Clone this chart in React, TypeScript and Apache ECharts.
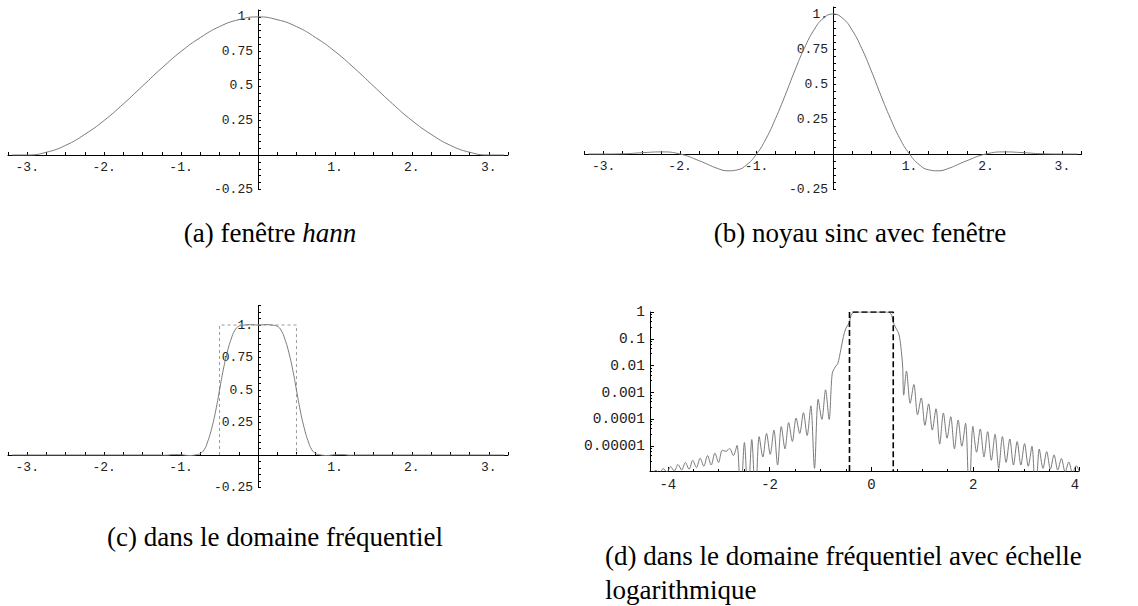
import React, { useEffect, useRef } from 'react';
import * as echarts from 'echarts';

// ---------- data ----------
// (a) hann window
const HANN_X = [-3.2, -3, -2.75, -2.5, -2.25, -2, -1.75, -1.5, -1.25, -1, -0.75, -0.5, -0.25, 0, 0.25, 0.5, 0.75, 1, 1.25, 1.5, 1.75, 2, 2.25, 2.5, 2.75, 3, 3.2];
const HANN_Y = [0, 0, 0.02, 0.07, 0.15, 0.25, 0.37, 0.5, 0.63, 0.75, 0.85, 0.93, 0.98, 1, 0.98, 0.93, 0.85, 0.75, 0.63, 0.5, 0.37, 0.25, 0.15, 0.07, 0.02, 0, 0];

// (b) windowed sinc kernel
const SINC_X = [-3.2, -3, -2.75, -2.5, -2.25, -2, -1.75, -1.5, -1.375, -1.25, -1.125, -1, -0.875, -0.75, -0.625, -0.5, -0.375, -0.25, -0.125, 0, 0.125, 0.25, 0.375, 0.5, 0.625, 0.75, 0.875, 1, 1.125, 1.25, 1.375, 1.5, 1.75, 2, 2.25, 2.5, 2.75, 3, 3.2];
const SINC_Y = [0, 0, 0.0015, 0.009, 0.015, 0, -0.048, -0.105, -0.12, -0.113, -0.075, 0, 0.11, 0.255, 0.42, 0.595, 0.755, 0.885, 0.97, 1, 0.97, 0.885, 0.755, 0.595, 0.42, 0.255, 0.11, 0, -0.075, -0.113, -0.12, -0.105, -0.048, 0, 0.015, 0.009, 0.0015, 0, 0];

// (c) frequency response (linear)
const FREQ_X = [-3.2, -1.3, -1.2, -1.1, -1.0, -0.9, -0.8, -0.75, -0.7, -0.65, -0.6, -0.55, -0.5, -0.45, -0.4, -0.35, -0.3, -0.25, -0.2, -0.1, 0, 0.1, 0.2, 0.25, 0.3, 0.35, 0.4, 0.45, 0.5, 0.55, 0.6, 0.65, 0.7, 0.75, 0.8, 0.9, 1.0, 1.1, 1.2, 1.3, 3.2];
const FREQ_Y = [0, 0, -0.002, 0.003, 0.002, -0.004, 0.002, 0.012, 0.04, 0.11, 0.21, 0.34, 0.5, 0.66, 0.79, 0.89, 0.96, 0.99, 0.998, 1.003, 1, 1.003, 0.998, 0.99, 0.96, 0.89, 0.79, 0.66, 0.5, 0.34, 0.21, 0.11, 0.04, 0.012, 0.002, -0.004, 0.002, 0.003, -0.002, 0, 0];

// ideal rectangle (c)
const IDEAL_C: [number, number][] = [[-0.5, 0], [-0.5, 1], [0.5, 1], [0.5, 0]];

// (d) frequency response (log), left side lobes, main lobe, right side lobes
const D_LEFT: [number, number][] = [
  [-4.3075, 1.0e-6], [-4.235, 1.26e-6], [-4.1625, 1.0e-6], [-4.09, 1.48e-6], [-4.0175, 1.1e-6],
  [-3.945, 1.74e-6], [-3.8725, 1.2e-6], [-3.8, 2.1e-6], [-3.7275, 1.3e-6], [-3.655, 2.5e-6],
  [-3.5825, 1.4e-6], [-3.51, 3.0e-6], [-3.4375, 1.6e-6], [-3.365, 3.6e-6], [-3.2925, 1.8e-6],
  [-3.22, 4.5e-6], [-3.1475, 2.0e-6], [-3.075, 5.6e-6], [-3.0025, 2.5e-6], [-2.93, 7.1e-6],
  [-2.8575, 6.5e-6], [-2.785, 8.3e-6], [-2.7125, 4.5e-6], [-2.64, 1.07e-5], [-2.5675, 1e-7],
  [-2.495, 1.38e-5], [-2.4225, 1e-7], [-2.35, 1.78e-5], [-2.2775, 1e-7], [-2.205, 2.3e-5],
  [-2.1325, 4e-6], [-2.06, 3.0e-5], [-1.9875, 5e-6], [-1.915, 4.0e-5], [-1.8425, 2e-6],
  [-1.77, 5.4e-5], [-1.6975, 8e-6], [-1.625, 7.6e-5], [-1.5525, 1.5e-5], [-1.48, 1.12e-4],
  [-1.4075, 3e-5], [-1.335, 1.78e-4], [-1.2625, 2.5e-5], [-1.19, 3.2e-4], [-1.1175, 1.5e-6],
  [-1.045, 5.6e-4], [-0.9725, 1e-4], [-0.9, 1.26e-3], [-0.83, 1e-4], [-0.77, 5e-3],
  [-0.71, 9e-3], [-0.66, 0.012], [-0.6, 0.04], [-0.55, 0.12], [-0.5, 0.25], [-0.45, 0.35],
];
const D_MAIN: [number, number][] = [
  [-0.43, 0.42], [-0.4, 0.75], [-0.36, 0.95], [-0.3, 1.0], [0, 1.0], [0.3, 1.0], [0.36, 0.95], [0.4, 0.75], [0.43, 0.42],
];
const D_RIGHT: [number, number][] = [
  [0.47, 0.28], [0.54, 0.15], [0.58, 0.05], [0.615, 0.009], [0.635, 8e-4],
  [0.69, 6.3e-3], [0.7625, 4e-4], [0.835, 2.0e-3], [0.9075, 1.5e-4], [0.98, 6.3e-4],
  [1.0525, 6e-5], [1.125, 3.8e-4], [1.1975, 4e-5], [1.27, 2.5e-4], [1.3425, 1.2e-5],
  [1.415, 1.74e-4], [1.4875, 2e-5], [1.56, 1.26e-4], [1.6325, 8e-6], [1.705, 9.5e-5],
  [1.7775, 1e-5], [1.85, 7.2e-5], [1.9225, 1e-7], [1.995, 5.5e-5], [2.0675, 6e-6],
  [2.14, 4.4e-5], [2.2125, 4e-6], [2.285, 3.5e-5], [2.3575, 3e-6], [2.43, 2.8e-5],
  [2.5025, 1.5e-6], [2.575, 2.3e-5], [2.6475, 2.5e-6], [2.72, 1.86e-5], [2.7925, 2e-6],
  [2.865, 1.5e-5], [2.9375, 2e-6], [3.01, 1.26e-5], [3.0825, 1.8e-6], [3.155, 1.0e-5],
  [3.2275, 1e-7], [3.3, 7.9e-6], [3.3725, 1.5e-6], [3.445, 6.3e-6], [3.5175, 1.4e-6],
  [3.59, 4.8e-6], [3.6625, 1.3e-6], [3.735, 3.5e-6], [3.8075, 1.1e-6], [3.88, 2.6e-6],
  [3.9525, 1.0e-6], [4.025, 1.9e-6], [4.0975, 1.0e-6],
];
const D_MIN = 1.2e-6;
const IDEAL_D: [number, number][] = [[-0.43, D_MIN], [-0.43, 1], [0.43, 1], [0.43, D_MIN]];

// tick labels
const LIN_X_LABELS = [-3, -2, -1, 1, 2, 3];
const LIN_Y_LABELS = [-0.25, 0.25, 0.5, 0.75, 1];
const LOG_X_LABELS = [-4, -2, 0, 2, 4];
const LOG_Y_VALUES = [1, 0.1, 0.01, 0.001, 0.0001, 0.00001];
const LOG_Y_TEXTS = ['1', '0.1', '0.01', '0.001', '0.0001', '0.00001'];

const CAPTIONS = {
  a: ['(a) fenêtre ', 'hann'],
  b: '(b) noyau sinc avec fenêtre',
  c: '(c) dans le domaine fréquentiel',
  d1: '(d) dans le domaine fréquentiel avec échelle',
  d2: 'logarithmique',
};

// ---------- layout ----------
// linear panels: [left, top, width, height, xmin, xmax, ymin, ymax]
const PANELS = [
  { left: 8, top: 10, width: 500, height: 179.5, xmin: -3.25, xmax: 3.25, ymin: -0.25, ymax: 1.05 },
  { left: 584.5, top: 7, width: 497, height: 182, xmin: -3.25, xmax: 3.25, ymin: -0.25, ymax: 1.05 },
  { left: 8, top: 305.5, width: 500, height: 182, xmin: -3.25, xmax: 3.25, ymin: -0.25, ymax: 1.15 },
];

// ---------- styling ----------
const MONO = "'Liberation Mono', 'DejaVu Sans Mono', monospace";
const SERIF = "'Liberation Serif', 'DejaVu Serif', serif";
const CURVE = '#7a7a7a';
const INK = '#000';
const LABEL = '#222';

const near = (a: number, b: number) => Math.abs(a - b) < 1e-6;

const fmtLinX = (v: number) => {
  const hit = LIN_X_LABELS.find((t) => near(t, v));
  return hit === undefined ? '' : hit + '.';
};
const fmtLinY = (v: number) => {
  const hit = LIN_Y_LABELS.find((t) => near(t, v));
  if (hit === undefined) return '';
  return hit === 1 ? '1.' : String(hit);
};
const fmtLogX = (v: number) => {
  const hit = LOG_X_LABELS.find((t) => near(t, v));
  return hit === undefined ? '' : String(hit);
};
const fmtLogY = (v: number) => {
  const i = LOG_Y_VALUES.findIndex((t) => Math.abs(Math.log10(v) - Math.log10(t)) < 0.01);
  return i < 0 ? '' : LOG_Y_TEXTS[i];
};

// axes crossing at the origin: shift each axis from the grid edge to the zero line
function linX(i: number) {
  const p = PANELS[i];
  const zeroFromBottom = ((0 - p.ymin) / (p.ymax - p.ymin)) * p.height;
  return {
    type: 'value', gridIndex: i, min: p.xmin, max: p.xmax, interval: 0.25,
    offset: -zeroFromBottom,
    axisLine: { onZero: false, lineStyle: { color: INK, width: 1 } },
    axisTick: { show: true, inside: true, length: 3, lineStyle: { color: INK, width: 1 } },
    axisLabel: { formatter: fmtLinX, fontFamily: MONO, fontSize: 13, color: LABEL, margin: 6 },
    splitLine: { show: false },
  };
}
function linY(i: number) {
  const p = PANELS[i];
  const zeroFromLeft = ((0 - p.xmin) / (p.xmax - p.xmin)) * p.width;
  return {
    type: 'value', gridIndex: i, min: p.ymin, max: p.ymax, interval: 0.05,
    offset: -zeroFromLeft,
    axisLine: { onZero: false, lineStyle: { color: INK, width: 1 } },
    axisTick: { show: true, inside: true, length: 3, lineStyle: { color: INK, width: 1 } },
    axisLabel: { formatter: fmtLinY, fontFamily: MONO, fontSize: 13, color: LABEL, margin: 5 },
    splitLine: { show: false },
  };
}

function zip(xs: number[], ys: number[]) {
  return xs.map((x, i) => [x, ys[i]]);
}

function curve(idx: number, data: any[], smooth: any = true) {
  return {
    type: 'line', xAxisIndex: idx, yAxisIndex: idx, data, showSymbol: false, smooth,
    lineStyle: { color: CURVE, width: 1 }, silent: true, z: 3,
  };
}

const centered = { align: 'center', verticalAlign: 'middle', textAlign: 'center', textVerticalAlign: 'middle' };
const leftAligned = { align: 'left', verticalAlign: 'middle', textAlign: 'left', textVerticalAlign: 'middle' };

export default function App() {
  const ref = useRef<HTMLDivElement>(null);
  useEffect(() => {
    if (!ref.current) return;
    const chart = echarts.init(ref.current, null, { renderer: 'svg' });
    const option: any = {
      animation: false,
      backgroundColor: '#fff',
      grid: [
        ...PANELS.map((p) => ({ left: p.left, top: p.top, width: p.width, height: p.height, containLabel: false, outerBoundsMode: 'none' })),
        { left: 650, top: 312, width: 429, height: 159, containLabel: false, outerBoundsMode: 'none' },
      ],
      xAxis: [
        linX(0), linX(1), linX(2),
        {
          type: 'value', gridIndex: 3, min: -4.35, max: 4.08, splitNumber: 4,
          axisLine: { onZero: false, lineStyle: { color: INK, width: 1 } },
          axisTick: { show: true, inside: true, length: 4, lineStyle: { color: INK } },
          minorTick: { show: true, splitNumber: 4, length: 2, lineStyle: { color: INK } },
          axisLabel: { formatter: fmtLogX, fontFamily: MONO, fontSize: 14, color: LABEL, margin: 7 },
          splitLine: { show: false },
        },
      ],
      yAxis: [
        linY(0), linY(1), linY(2),
        {
          type: 'log', logBase: 10, gridIndex: 3, min: D_MIN, max: 1,
          axisLine: { onZero: false, lineStyle: { color: INK, width: 1 } },
          axisTick: { show: true, inside: true, length: 4, lineStyle: { color: INK } },
          minorTick: { show: true, splitNumber: 5, length: 2, lineStyle: { color: INK } },
          axisLabel: { formatter: fmtLogY, fontFamily: MONO, fontSize: 14.5, color: LABEL, margin: 5 },
          splitLine: { show: false },
          minorSplitLine: { show: false },
        },
      ],
      series: [
        curve(0, zip(HANN_X, HANN_Y)),
        curve(1, zip(SINC_X, SINC_Y)),
        curve(2, zip(FREQ_X, FREQ_Y)),
        {
          type: 'line', xAxisIndex: 2, yAxisIndex: 2, data: IDEAL_C, showSymbol: false,
          lineStyle: { color: '#9a9a9a', width: 1, type: [3, 3] }, silent: true, z: 2,
        },
        curve(3, [...D_LEFT, ...D_MAIN, ...D_RIGHT], 0.3),
        {
          type: 'line', xAxisIndex: 3, yAxisIndex: 3, data: IDEAL_D, showSymbol: false,
          lineStyle: { color: '#000', width: 1.6, type: [6, 3] }, silent: true, z: 4,
        },
      ],
      graphic: [
        {
          type: 'text', x: 270, y: 233,
          style: {
            text: '{n|' + CAPTIONS.a[0] + '}{i|' + CAPTIONS.a[1] + '}',
            rich: {
              n: { fontFamily: SERIF, fontSize: 27, fill: '#000' },
              i: { fontFamily: SERIF, fontSize: 27, fontStyle: 'italic', fill: '#000' },
            },
            ...centered,
          },
        },
        { type: 'text', x: 860, y: 233, style: { text: CAPTIONS.b, font: `27px ${SERIF}`, fill: '#000', ...centered } },
        { type: 'text', x: 275, y: 537, style: { text: CAPTIONS.c, font: `27px ${SERIF}`, fill: '#000', ...centered } },
        { type: 'text', x: 605, y: 556, style: { text: CAPTIONS.d1, font: `27px ${SERIF}`, fill: '#000', ...leftAligned } },
        { type: 'text', x: 605, y: 590, style: { text: CAPTIONS.d2, font: `27px ${SERIF}`, fill: '#000', ...leftAligned } },
      ],
    };
    chart.setOption(option);
    return () => chart.dispose();
  }, []);
  return (
    <div
      ref={ref}
      style={{ position: 'fixed', left: 0, top: 0, width: 1138, height: 606, background: '#fff' }}
    />
  );
}
